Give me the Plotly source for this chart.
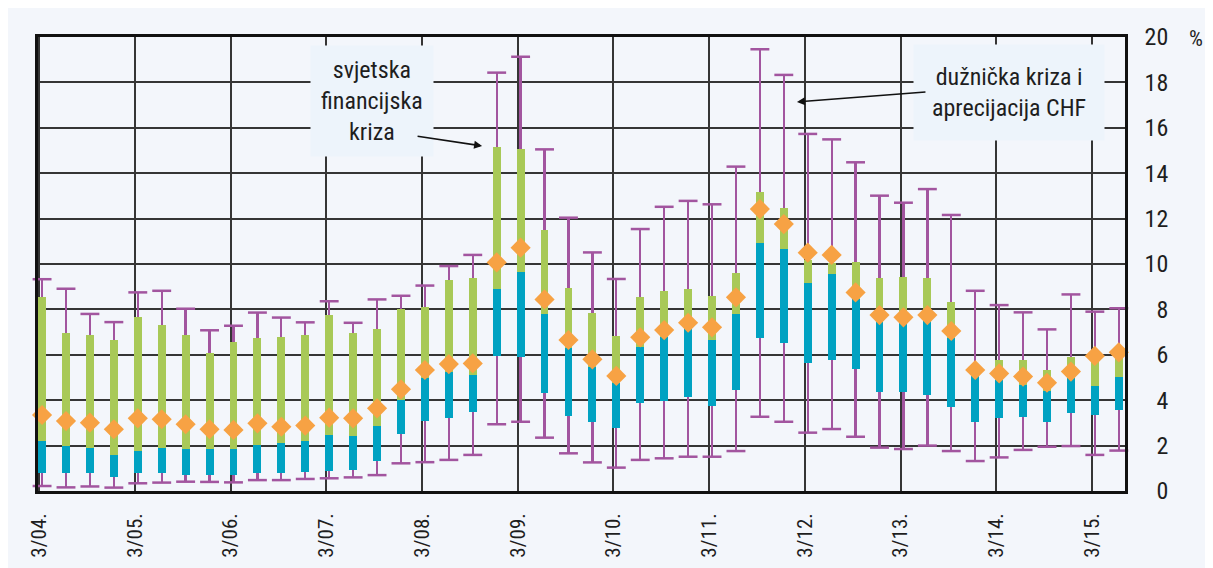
import plotly.graph_objects as go

# ---------------- data ----------------
quarters = [
    "3/04", "6/04", "9/04", "12/04", "3/05", "6/05", "9/05", "12/05",
    "3/06", "6/06", "9/06", "12/06", "3/07", "6/07", "9/07", "12/07",
    "3/08", "6/08", "9/08", "12/08", "3/09", "6/09", "9/09", "12/09",
    "3/10", "6/10", "9/10", "12/10", "3/11", "6/11", "9/11", "12/11",
    "3/12", "6/12", "9/12", "12/12", "3/13", "6/13", "9/13", "12/13",
    "3/14", "6/14", "9/14", "12/14", "3/15", "6/15",
]
minimum = [0.22, 0.16, 0.20, 0.15, 0.34, 0.37, 0.41, 0.40, 0.38, 0.48, 0.48, 0.53,
           0.56, 0.60, 0.70, 1.22, 1.27, 1.37, 1.59, 2.94, 3.05, 2.35, 1.66, 1.26,
           1.03, 1.37, 1.44, 1.51, 1.51, 1.76, 3.27, 3.05, 2.57, 2.73, 2.39, 1.91,
           1.85, 2.00, 1.76, 1.32, 1.48, 1.81, 1.95, 1.98, 1.59, 1.78]
lower_quartile = [0.78, 0.78, 0.78, 0.63, 0.78, 0.78, 0.70, 0.70, 0.70, 0.78, 0.78, 0.82,
                  0.88, 0.93, 1.34, 2.50, 3.10, 3.20, 3.47, 5.95, 5.89, 4.30, 3.32, 3.05,
                  2.76, 3.86, 3.96, 4.16, 3.74, 4.45, 6.73, 6.50, 5.62, 5.77, 5.37, 4.38,
                  4.35, 4.23, 3.71, 3.05, 3.20, 3.27, 3.05, 3.45, 3.35, 3.57]
median = [2.20, 2.00, 1.91, 1.59, 1.78, 1.91, 1.84, 1.84, 1.85, 2.03, 2.13, 2.22,
          2.47, 2.44, 2.88, 4.01, 4.96, 5.26, 5.11, 8.90, 9.66, 7.78, 6.31, 5.48,
          4.74, 6.36, 6.77, 7.21, 6.65, 7.78, 10.91, 10.66, 9.15, 9.55, 8.44, 7.46,
          7.39, 7.53, 6.73, 5.11, 4.89, 4.67, 4.42, 4.96, 4.63, 5.04]
upper_quartile = [8.53, 6.95, 6.87, 6.65, 7.68, 7.31, 6.87, 6.09, 6.58, 6.73, 6.80, 6.87,
                  7.75, 6.97, 7.12, 8.00, 8.10, 9.30, 9.37, 15.17, 15.05, 11.50, 8.93, 7.86,
                  6.83, 8.56, 8.82, 8.90, 8.60, 9.62, 13.16, 12.48, 10.18, 10.03, 10.07, 9.37,
                  9.41, 9.37, 8.31, 5.45, 5.77, 5.77, 5.33, 5.92, 5.85, 6.36]
maximum = [9.33, 8.91, 7.80, 7.44, 8.75, 8.82, 8.03, 7.08, 7.28, 7.86, 7.64, 7.43,
           8.36, 7.41, 8.44, 8.60, 9.05, 9.91, 10.40, 18.43, 19.13, 15.05, 12.04, 10.51,
           9.34, 11.54, 12.52, 12.78, 12.63, 14.29, 19.46, 18.33, 15.73, 15.49, 14.48, 13.01,
           12.70, 13.30, 12.16, 8.82, 8.19, 7.87, 7.12, 8.66, 7.90, 8.05]
mean = [3.35, 3.08, 3.01, 2.72, 3.20, 3.16, 2.94, 2.72, 2.69, 2.98, 2.83, 2.88,
        3.23, 3.20, 3.64, 4.48, 5.33, 5.59, 5.62, 10.07, 10.72, 8.44, 6.65, 5.80,
        5.07, 6.77, 7.09, 7.41, 7.21, 8.53, 12.42, 11.76, 10.50, 10.40, 8.75, 7.75,
        7.65, 7.75, 7.05, 5.33, 5.18, 5.04, 4.77, 5.26, 5.95, 6.11]

tick_labels = ["3/04.", "3/05.", "3/06.", "3/07.", "3/08.", "3/09.",
               "3/10.", "3/11.", "3/12.", "3/13.", "3/14.", "3/15."]
y_ticks = [0, 2, 4, 6, 8, 10, 12, 14, 16, 18, 20]

# ---------------- styling ----------------
PURPLE = "#a2559f"
BLUE = "#00a2c2"
GREEN = "#a8c957"
ORANGE = "#f7a244"
BG = "#f3f6fb"
GRID = "#353535"
FONT = "Liberation Sans Narrow, Arial Narrow, Roboto Condensed, sans-serif"

x = list(range(len(quarters)))

fig = go.Figure()

# whisker (min..max)
fig.add_trace(go.Bar(
    x=x, y=[mx - mn for mn, mx in zip(minimum, maximum)], base=minimum,
    width=0.095, marker=dict(color=PURPLE, line=dict(width=0)),
    hoverinfo="skip", showlegend=False))
# lower box (q1..median)
fig.add_trace(go.Bar(
    x=x, y=[m - q for q, m in zip(lower_quartile, median)], base=lower_quartile,
    width=0.33, marker=dict(color=BLUE, line=dict(width=0)),
    showlegend=False))
# upper box (median..q3)
fig.add_trace(go.Bar(
    x=x, y=[q - m for m, q in zip(median, upper_quartile)], base=median,
    width=0.33, marker=dict(color=GREEN, line=dict(width=0)),
    showlegend=False))
# caps
fig.add_trace(go.Scatter(
    x=x + x, y=minimum + maximum, mode="markers",
    marker=dict(symbol="line-ew", size=13.5, color=PURPLE,
                line=dict(color=PURPLE, width=2.5)),
    cliponaxis=False, showlegend=False, hoverinfo="skip"))
# mean diamonds
fig.add_trace(go.Scatter(
    x=x, y=mean, mode="markers",
    marker=dict(symbol="diamond", size=15.5, color=ORANGE, line=dict(width=0)),
    cliponaxis=False, showlegend=False))

# page body offset is 8px; figure placed at (8, 8)
OFF = 8
W, H = 1213, 568
PL, PR, PT, PB = 38, 1125, 37, 491   # plot area in page pixels
L, T = PL - OFF, PT - OFF
R = OFF + W - PR
B = OFF + H - PB
pw, ph = PR - PL, PB - PT


def px_x(p):
    return (p - PL) / pw


def px_y(p):
    return (PB - p) / ph


fig.update_layout(
    width=W, height=H,
    margin=dict(l=L, r=R, t=T, b=B, pad=0),
    paper_bgcolor=BG, plot_bgcolor=BG,
    barmode="overlay", bargap=0,
    font=dict(family=FONT, color="#1e1e1e"),
    showlegend=False,
    xaxis=dict(
        range=[-0.17, 45.26],
        tickmode="array",
        tickvals=[i - 0.12 for i in range(0, len(quarters), 4)],
        ticktext=tick_labels,
        tickangle=-90,
        tickfont=dict(size=21, family=FONT),
        ticks="outside", ticklen=11, tickcolor="rgba(0,0,0,0)",
        showgrid=True, gridcolor=GRID, gridwidth=1.7,
        showline=True, linecolor="#111", linewidth=2.6, mirror=True,
        zeroline=False,
    ),
    yaxis=dict(
        range=[0, 20], side="right",
        tickmode="array", tickvals=y_ticks,
        ticktext=[("\u2007" + str(v)) if v < 10 else str(v) for v in y_ticks],
        tickfont=dict(size=24, family=FONT),
        ticks="outside", ticklen=12, tickcolor="rgba(0,0,0,0)",
        showgrid=True, gridcolor=GRID, gridwidth=1.7,
        showline=True, linecolor="#111", linewidth=2.6, mirror=True,
        zeroline=False,
    ),
)

# % unit
fig.add_annotation(xref="paper", yref="paper", x=px_x(1196), y=px_y(38),
                   text="%", showarrow=False, font=dict(size=22, family=FONT),
                   xanchor="center", yanchor="middle")

# annotation boxes
fig.add_annotation(xref="paper", yref="paper", x=px_x(372), y=px_y(101),
                   text="svjetska<br>financijska<br>kriza", showarrow=False,
                   font=dict(size=24, family=FONT), align="center",
                   bgcolor="#edf4fb", borderpad=10,
                   xanchor="center", yanchor="middle")
fig.add_annotation(xref="paper", yref="paper", x=px_x(1009), y=px_y(92),
                   text="dužnička kriza i<br>aprecijacija CHF", showarrow=False,
                   font=dict(size=24, family=FONT), align="center",
                   bgcolor="#edf4fb", borderpad=18,
                   xanchor="center", yanchor="middle")

# arrows
fig.add_annotation(x=18.39, y=15.2, xref="x", yref="y", text="",
                   showarrow=True, ax=-66, ay=-10, arrowhead=2, arrowsize=1,
                   arrowwidth=1.6, arrowcolor="#111")
fig.add_annotation(x=31.55, y=17.14, xref="x", yref="y", text="",
                   showarrow=True, ax=130, ay=-10, arrowhead=2, arrowsize=1,
                   arrowwidth=1.6, arrowcolor="#111")

fig.write_html("out.html")
